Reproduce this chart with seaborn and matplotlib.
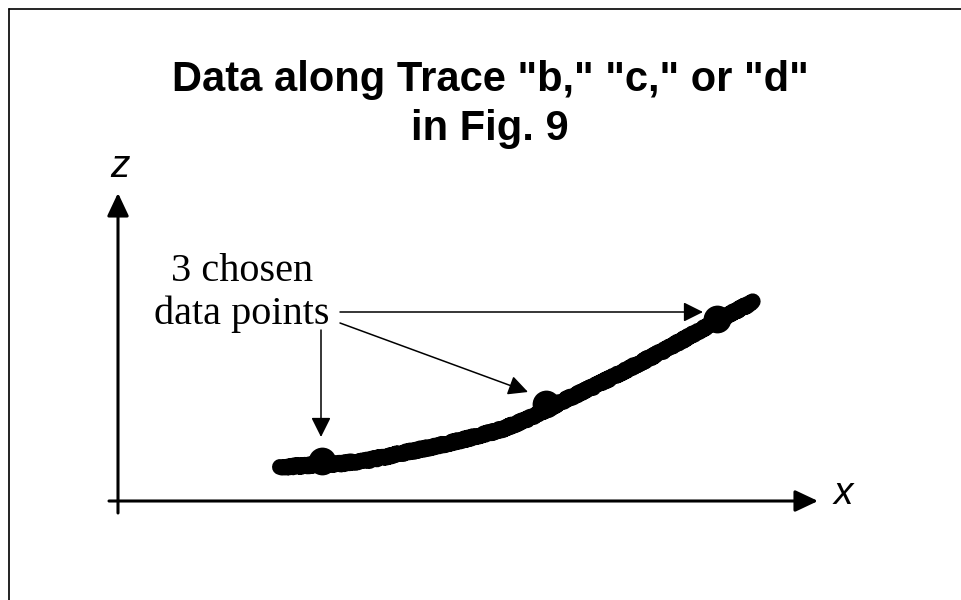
import matplotlib
matplotlib.use("Agg")
import matplotlib.pyplot as plt
import seaborn as sns
import pandas as pd
from matplotlib.lines import Line2D

# trace (x to the right, z up, origin at the axis crossing)
trace_x = [162, 219, 252, 285, 319, 352, 385, 412, 445, 479, 512, 545, 579, 612, 635]
trace_z = [34, 37, 41, 48, 55, 63, 72, 83, 100, 116, 133, 150, 169, 187, 199]

# the 3 chosen data points
chosen_x = [204, 428, 599]
chosen_z = [40, 97, 182]

title_text = 'Data along Trace "b," "c," or "d"\nin Fig. 9'
label_text = "3 chosen\ndata points"

trace = pd.DataFrame({"x": trace_x, "z": trace_z})
chosen = pd.DataFrame({"x": chosen_x, "z": chosen_z})

sns.set_theme(style="white")
plt.rcParams["font.family"] = ["Liberation Sans", "DejaVu Sans"]
plt.rcParams["text.color"] = "black"

fig = plt.figure(figsize=(9.61, 6.0), dpi=100)
ax = fig.add_axes([0, 0, 1, 1])

#Trace and points
sns.lineplot(data=trace, x="x", y="z", ax=ax, color="black", lw=11.5,
             sort=False, solid_capstyle="round", solid_joinstyle="round")
ax.lines[-1].set_sketch_params(scale=1.0, length=3, randomness=8)
sns.scatterplot(data=chosen, x="x", y="z", ax=ax, color="black", s=400,
                linewidth=0, zorder=3)

ax.set_xlim(-118, 843)
ax.set_ylim(-99, 501)
ax.axis("off")

#Coordinate axes
axis_arrow = dict(arrowstyle="-|>,head_length=0.7,head_width=0.33", lw=2.2,
                  color="black", shrinkA=0, shrinkB=0, mutation_scale=20)
ax.annotate("", xy=(0, 308), xytext=(0, -12), arrowprops=axis_arrow)
ax.annotate("", xy=(700, 0), xytext=(-9, 0), arrowprops=axis_arrow)
ax.text(2, 334, "z", fontsize=28, style="italic", ha="center", va="center")
ax.text(725, 7, "x", fontsize=28, style="italic", ha="center", va="center")

#Pointer arrows
pointer = dict(arrowstyle="-|>,head_length=0.6,head_width=0.3", lw=1.1,
               color="black", shrinkA=0, shrinkB=0, mutation_scale=20)
ax.annotate("", xy=(585, 189), xytext=(222, 189), arrowprops=pointer)
ax.annotate("", xy=(410, 109), xytext=(222, 178), arrowprops=pointer)
ax.annotate("", xy=(203, 64), xytext=(203, 171), arrowprops=pointer)

ax.text(124, 248, label_text, fontsize=29, family="Liberation Serif",
        ha="center", va="top", linespacing=1.2)

#Title
ax.text(372, 441, title_text, fontsize=30, fontweight="bold",
        ha="center", va="top", linespacing=1.3)

#Frame
fig.add_artist(Line2D([9 / 961, 9 / 961], [0, 1 - 9 / 600], color="#222222",
                      lw=1.4, transform=fig.transFigure))
fig.add_artist(Line2D([9 / 961, 1], [1 - 9 / 600, 1 - 9 / 600], color="black",
                      lw=1.2, transform=fig.transFigure))

fig.savefig("out.png", dpi=100, facecolor="white")
